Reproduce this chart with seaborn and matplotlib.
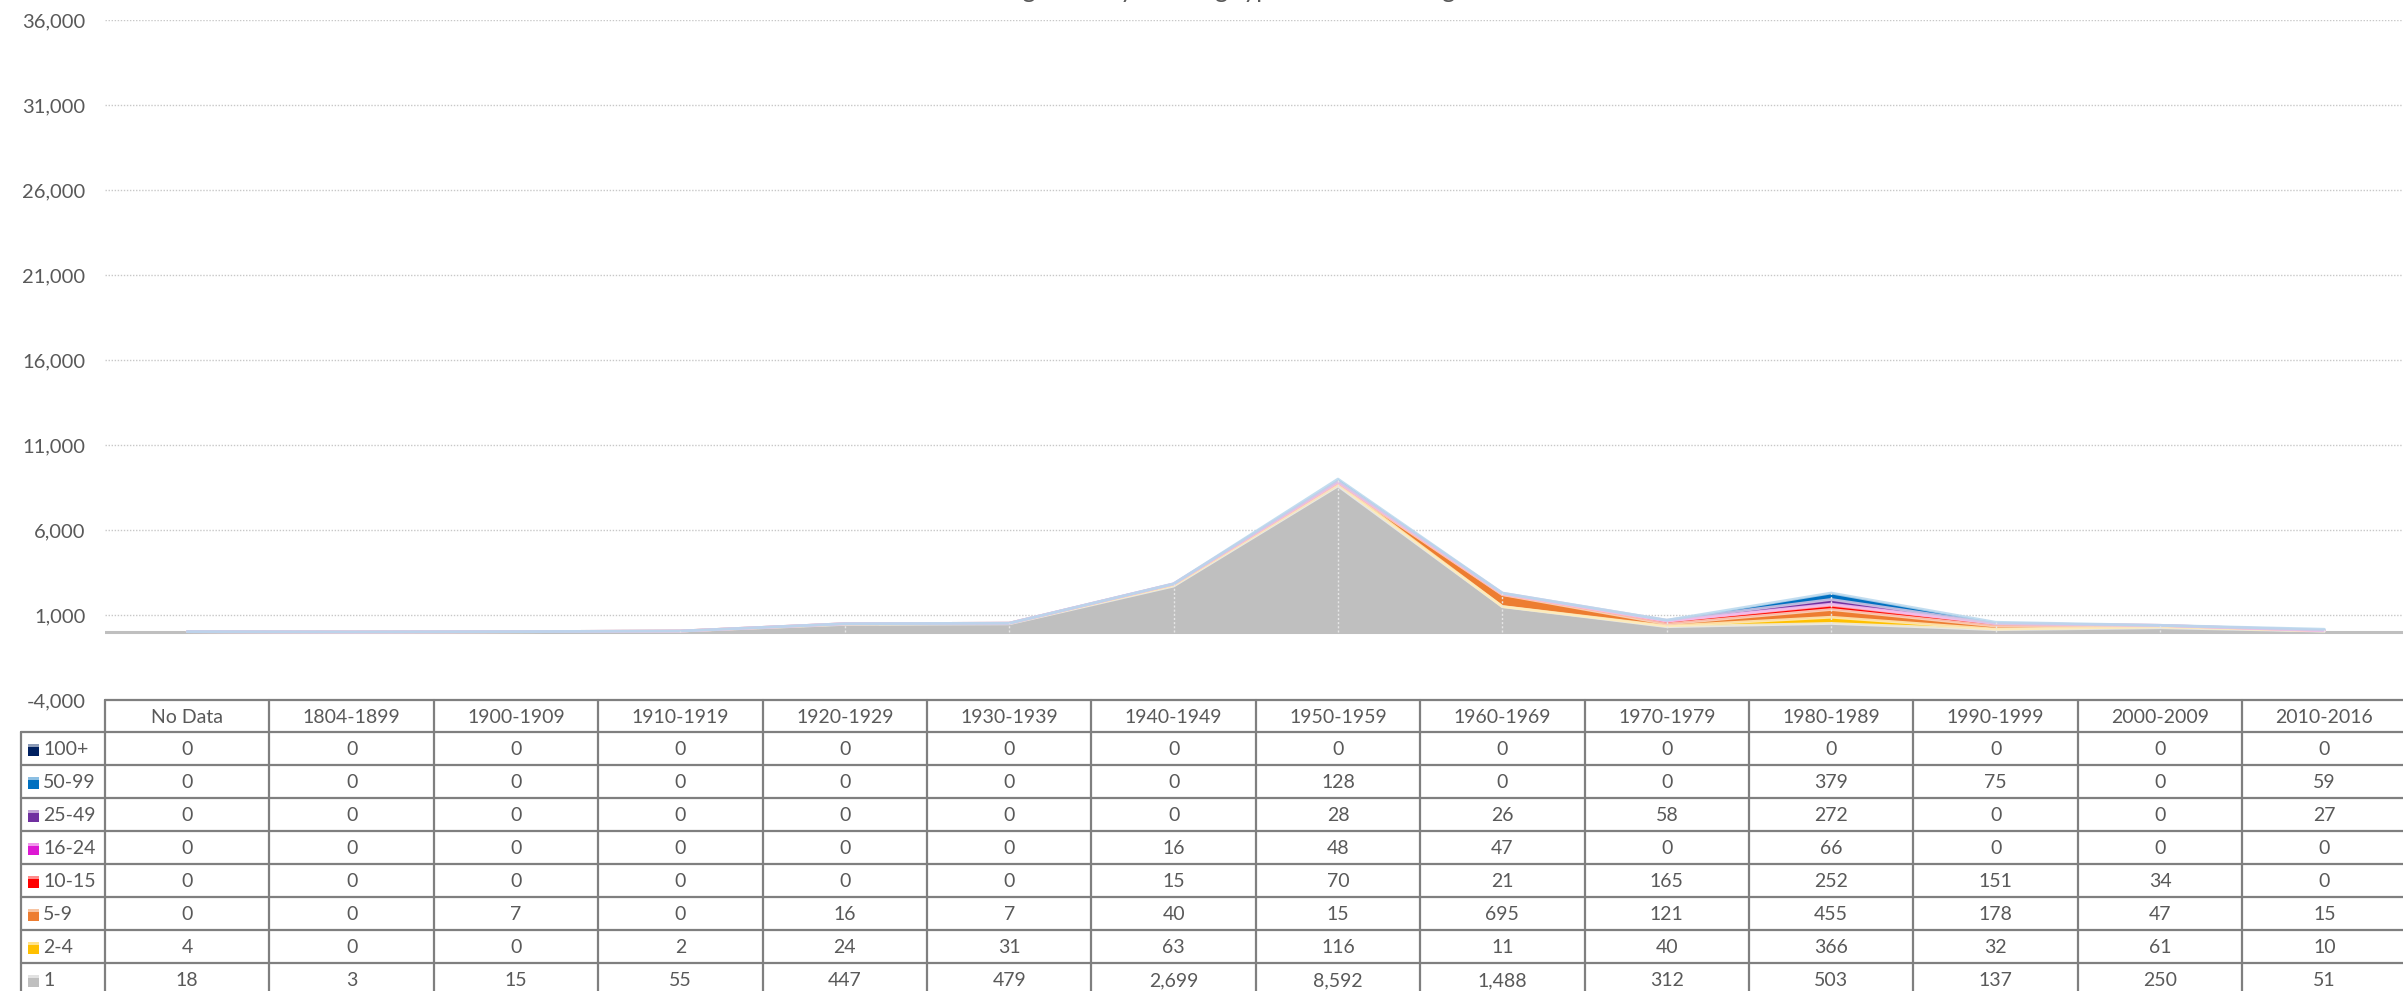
import numpy as np
import matplotlib
matplotlib.use("Agg")
import matplotlib.pyplot as plt
from matplotlib.colors import to_rgb
from matplotlib.patches import Rectangle
import seaborn as sns

# Data
periods = ["No Data", "1804-1899", "1900-1909", "1910-1919", "1920-1929", "1930-1939", "1940-1949",
           "1950-1959", "1960-1969", "1970-1979", "1980-1989", "1990-1999", "2000-2009", "2010-2016"]

s_1 = [18, 3, 15, 55, 447, 479, 2699, 8592, 1488, 312, 503, 137, 250, 51]
s_2_4 = [4, 0, 0, 2, 24, 31, 63, 116, 11, 40, 366, 32, 61, 10]
s_5_9 = [0, 0, 7, 0, 16, 7, 40, 15, 695, 121, 455, 178, 47, 15]
s_10_15 = [0, 0, 0, 0, 0, 0, 15, 70, 21, 165, 252, 151, 34, 0]
s_16_24 = [0, 0, 0, 0, 0, 0, 16, 48, 47, 0, 66, 0, 0, 0]
s_25_49 = [0, 0, 0, 0, 0, 0, 0, 28, 26, 58, 272, 0, 0, 27]
s_50_99 = [0, 0, 0, 0, 0, 0, 0, 128, 0, 0, 379, 75, 0, 59]
s_100 = [0, 0, 0, 0, 0, 0, 0, 0, 0, 0, 0, 0, 0, 0]

# stacking order, bottom to top
series_names = ["1", "2-4", "5-9", "10-15", "16-24", "25-49", "50-99", "100+"]
series_values = [s_1, s_2_4, s_5_9, s_10_15, s_16_24, s_25_49, s_50_99, s_100]
series_colors = ["#BFBFBF", "#FFC000", "#ED7D31", "#FF0000", "#DD18D3", "#7030A0", "#0070C0", "#002060"]

title = "Housing Units by Building type and Floor Range"
y_ticks = np.arange(-4000, 36001, 5000)

txt_color = "#595959"
border = "#7F7F7F"


def tint(c, amount=0.6):
    r, g, b = to_rgb(c)
    return (r + (1 - r) * amount, g + (1 - g) * amount, b + (1 - b) * amount)


sns.set_theme(style="white")
plt.rcParams["font.family"] = ["Lato", "DejaVu Sans"]

W, H = 2403, 991
fig = plt.figure(figsize=(W / 100, H / 100), dpi=100)
fig.patch.set_facecolor("white")

# Chart area
col_w = 164.4
left = 105
ax = fig.add_axes([left / W, (H - 700) / H, 14 * col_w / W, 680 / H])
ax.set_facecolor("white")
x = np.arange(len(periods))

ax.set_xlim(-0.5, len(periods) - 0.5)
ax.set_ylim(-4000, 36000)
ax.set_yticks(y_ticks)
ax.set_yticklabels([f"{v:,}" for v in y_ticks])
ax.tick_params(axis="y", length=0, pad=14, labelsize=14.5, labelcolor=txt_color)
ax.set_xticks([])
for sp in ax.spines.values():
    sp.set_visible(False)
for v in y_ticks:
    ax.axhline(v, color="#C8C8C8", lw=1, ls=(0, (1, 1.2)), zorder=0)

ax.stackplot(x, *series_values, colors=series_colors, lw=0, zorder=2)

# pale glow along the top of each band (skip empty series)
tops = np.cumsum(np.array(series_values), axis=0)
for vals, top, c in zip(series_values, tops, series_colors):
    if max(vals) == 0:
        continue
    sns.lineplot(x=x, y=top, color=tint(c, 0.72), lw=2.0, alpha=0.85, ax=ax, legend=False, zorder=3)

ax.vlines(x, 0, tops[-1], colors="#E6E6E6", lw=1.0, linestyles=(0, (1.5, 1.5)), zorder=4)
ax.axhline(0, color="#BFBFBF", lw=2.2, zorder=1)

# Title (clipped at the top edge, like the source)
fig.text(0.502, 1 + 2 / H, title, ha="center", va="baseline", fontsize=18, color=txt_color)

# Data table
tab = fig.add_axes([0, 0, 1, 1])
tab.set_xlim(0, W)
tab.set_ylim(H, 0)
tab.axis("off")

row_h = 33
head_top = 700
body_top = 732
lab_left = 21
right = left + 14 * col_w
n_rows = len(series_names)
body_bottom = body_top + n_rows * row_h + 1

lw_tab = 1.6
# header
tab.plot([left, right], [head_top, head_top], color=border, lw=lw_tab)
for i in range(15):
    xx = left + i * col_w
    tab.plot([xx, xx], [head_top, body_bottom], color=border, lw=lw_tab)
tab.plot([lab_left, lab_left], [body_top, body_bottom], color=border, lw=lw_tab)
for r in range(n_rows + 1):
    yy = body_top + r * row_h
    tab.plot([lab_left, right], [yy, yy], color=border, lw=lw_tab)

for i, p in enumerate(periods):
    tab.text(left + (i + 0.5) * col_w, head_top + row_h / 2 + 1, p, ha="center", va="center",
             fontsize=14, color=txt_color)

rows_top_down = list(range(n_rows))[::-1]
for r, si in enumerate(rows_top_down):
    yc = body_top + r * row_h + row_h / 2 + 1
    c = series_colors[si]
    tab.add_patch(Rectangle((28, yc - 6), 11, 12, color=c, lw=0))
    tab.add_patch(Rectangle((28, yc - 6), 11, 3.5, color=tint(c, 0.55), lw=0))
    tab.text(43, yc, series_names[si], ha="left", va="center", fontsize=14, color=txt_color)
    for i, v in enumerate(series_values[si]):
        tab.text(left + (i + 0.5) * col_w, yc, f"{v:,}", ha="center", va="center",
                 fontsize=14, color=txt_color)

fig.savefig("out.png", dpi=100, facecolor="white")
